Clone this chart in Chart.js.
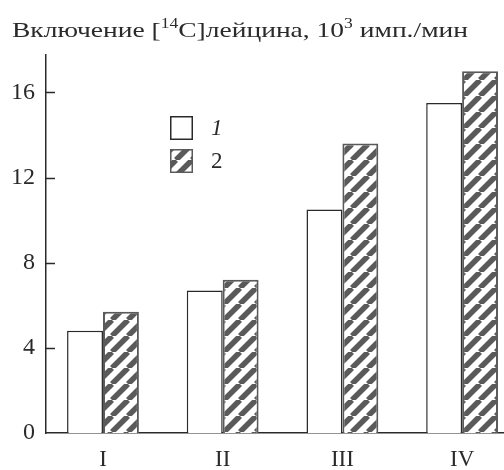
<!DOCTYPE html>
<html>
<head>
<meta charset="utf-8">
<script src="https://cdn.jsdelivr.net/npm/chart.js@4"></script>
<style>
  html, body { margin: 0; padding: 0; background: #fff; }
  #wrap { width: 504px; height: 470px; }
</style>
</head>
<body>
<div id="wrap"><canvas id="chart" width="504" height="470"></canvas></div>
<script>
// Data
const categories = ["I", "II", "III", "IV"];
const seriesLabels = ["1", "2"];
const series1 = [4.8, 6.7, 10.5, 15.5];
const series2 = [5.7, 7.2, 13.6, 17.0];
const yTicks = [0, 4, 8, 12, 16];

const serif = "'Liberation Serif', 'DejaVu Serif', serif";
const ink = "#2a2a2a";
const hatchInk = "#5a5a5a";

// Diagonal hatch fill for series 2
function makeHatch() {
  const size = 16;
  const c = document.createElement("canvas");
  c.width = size;
  c.height = size;
  const g = c.getContext("2d");
  g.fillStyle = "#fff";
  g.fillRect(0, 0, size, size);
  g.strokeStyle = hatchInk;
  g.lineWidth = 5.5;
  g.beginPath();
  for (let k = -1; k <= 1; k++) {
    g.moveTo(k * size, size);
    g.lineTo(k * size + size, 0);
  }
  g.stroke();
  return g.createPattern(c, "repeat");
}

const ctx = document.getElementById("chart").getContext("2d");
const hatch = makeHatch();

// Title with superscripts (the printed face is wide, so stretch it to the same span)
const titlePlugin = {
  id: "titleText",
  afterDraw(chart) {
    const c = chart.ctx;
    const parts = [
      ["Включение [", false],
      ["14", true],
      ["C]лейцина, 10", false],
      ["3", true],
      [" имп./мин", false]
    ];
    const fontFor = sup => (sup ? `14px ${serif}` : `22px ${serif}`);
    c.save();
    let total = 0;
    parts.forEach(([t, sup]) => {
      c.font = fontFor(sup);
      total += c.measureText(t).width;
    });
    const left = 12, span = 456, y = 37;
    c.translate(left, 0);
    c.scale(span / total, 1);
    c.fillStyle = ink;
    c.textBaseline = "alphabetic";
    c.textAlign = "left";
    let x = 0;
    parts.forEach(([t, sup]) => {
      c.font = fontFor(sup);
      c.fillText(t, x, sup ? y - 9 : y);
      x += c.measureText(t).width;
    });
    c.restore();
  }
};

// Short tick marks pointing into the plot
const innerTicks = {
  id: "innerTicks",
  afterDraw(chart) {
    const c = chart.ctx;
    const y = chart.scales.y;
    const left = chart.chartArea.left;
    c.save();
    c.strokeStyle = ink;
    c.lineWidth = 1.5;
    yTicks.filter(v => v > 0).forEach(v => {
      const py = Math.round(y.getPixelForValue(v)) + 0.5;
      c.beginPath();
      c.moveTo(left, py);
      c.lineTo(left + 9, py);
      c.stroke();
    });
    c.restore();
  }
};

// Legend boxes inside the plot
const boxLegend = {
  id: "boxLegend",
  afterDraw(chart) {
    const c = chart.ctx;
    const x = 170, w = 23, h = 24;
    const rows = [116, 149];
    c.save();
    chart.data.datasets.forEach((ds, i) => {
      const y = rows[i];
      c.fillStyle = ds.backgroundColor;
      c.fillRect(x, y, w, h);
      c.strokeStyle = ds.borderColor;
      c.lineWidth = 1.5;
      c.strokeRect(x + 0.75, y + 0.75, w - 1.5, h - 1.5);
      c.fillStyle = ink;
      c.font = (i === 0 ? "italic " : "") + `23px ${serif}`;
      c.textBaseline = "middle";
      c.fillText(ds.label, x + 41, y + h / 2 + 1);
    });
    c.restore();
  }
};

new Chart(ctx, {
  type: "bar",
  data: {
    datasets: [
      {
        label: seriesLabels[0],
        data: series1.map((v, i) => ({ x: i, y: v })),
        backgroundColor: "#ffffff",
        borderColor: ink,
        borderWidth: 1.5
      },
      {
        label: seriesLabels[1],
        data: series2.map((v, i) => ({ x: i, y: v })),
        backgroundColor: hatch,
        borderColor: hatchInk,
        borderWidth: 2
      }
    ]
  },
  options: {
    responsive: false,
    animation: false,
    layout: { padding: { top: 55, left: 0, right: 0, bottom: 0 } },
    datasets: { bar: { categoryPercentage: 0.6, barPercentage: 1.0 } },
    plugins: { legend: { display: false }, tooltip: { enabled: false } },
    scales: {
      x: {
        type: "linear",
        min: -0.476,
        max: 3.35,
        offset: false,
        grid: { display: false, drawTicks: false },
        border: { display: true, color: ink, width: 1.5 },
        ticks: {
          stepSize: 1,
          includeBounds: false,
          padding: 13,
          color: ink,
          font: { family: serif, size: 23 },
          callback: v => categories[v] ?? ""
        },
        afterFit: s => { s.height = 37; }
      },
      y: {
        min: 0,
        max: 17.76,
        grid: { display: false, drawTicks: false },
        border: { display: true, color: ink, width: 1.5 },
        ticks: {
          stepSize: 4,
          includeBounds: false,
          padding: 11,
          color: ink,
          font: { family: serif, size: 24 },
          callback: v => (yTicks.includes(v) ? String(v) : "")
        },
        afterFit: s => { s.width = 46; }
      }
    }
  },
  plugins: [titlePlugin, innerTicks, boxLegend]
});
</script>
</body>
</html>
